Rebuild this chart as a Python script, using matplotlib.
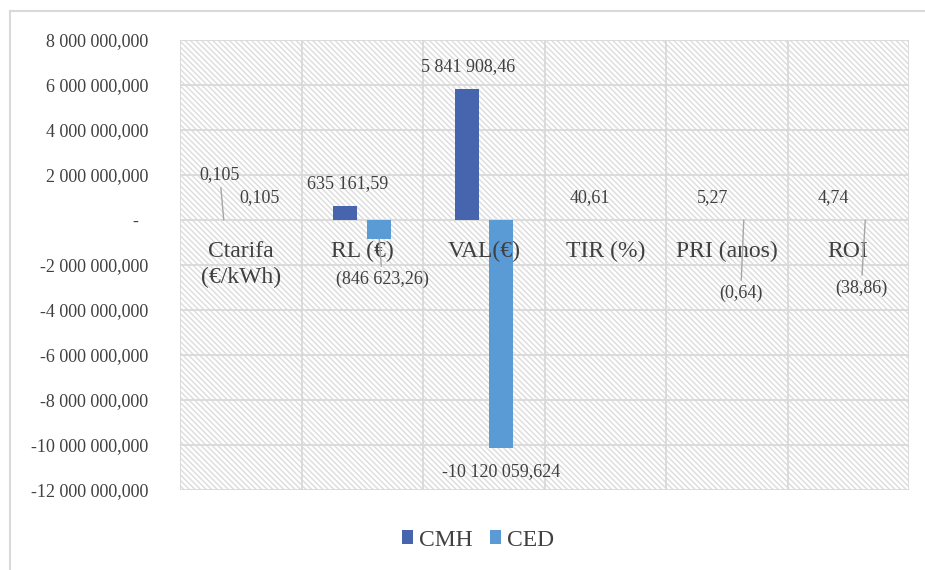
import numpy as np
import matplotlib
matplotlib.use("Agg")
import matplotlib.pyplot as plt
from matplotlib.patches import Rectangle, Patch
from matplotlib.lines import Line2D

categories = ["Ctarifa\n(€/kWh)", "RL (€)", "VAL(€)", "TIR (%)", "PRI (anos)", "ROI"]
cmh = [0.105, 635161.59, 5841908.46, 40.61, 5.27, 4.74]
ced = [0.105, -846623.26, -10120059.624, np.nan, -0.64, -38.86]
# decimals shown on each data label
cmh_dec = [3, 2, 2, 2, 2, 2]
ced_dec = [3, 2, 3, 2, 2, 2]
ced_paren = [True, True, False, True, True, True]
yticks = [-12e6, -10e6, -8e6, -6e6, -4e6, -2e6, 0, 2e6, 4e6, 6e6, 8e6]

# label offsets from the bar end, in pixels
cmh_off = [(-4, 45), (2, 22), (1, 22), (2, 22), (3, 22), (2, 22)]
ced_off = [(2, 22), (3, -40), (0, -24), (0, 0), (-3, -73), (-4, -68)]

TXT = "#404040"
GRID = "#d9d9d9"
C_CMH = "#4764ae"
C_CED = "#5b9bd5"
FONT = "Liberation Serif"

plt.rcParams["font.family"] = [FONT, "DejaVu Serif"]
plt.rcParams["hatch.color"] = "#dcdcdc"
plt.rcParams["hatch.linewidth"] = 1.0


def fmt(v, nd, paren=True):
    s = f"{abs(v):,.{nd}f}".replace(",", " ").replace(".", ",")
    if v < 0:
        return f"({s})" if paren else "-" + s
    return s


fig = plt.figure(figsize=(9.25, 5.7), dpi=100)
# chart border (left and top edges visible)
fig.add_artist(Line2D([10 / 925, 10 / 925], [0, 559 / 570], color=GRID, lw=1.5))
fig.add_artist(Line2D([10 / 925, 1], [559 / 570, 559 / 570], color=GRID, lw=1.5))

ax = fig.add_axes([180 / 925, 80 / 570, 729 / 925, 450 / 570])
ax.set_xlim(-0.5, len(categories) - 0.5)
ax.set_ylim(-12e6, 8e6)

# hatched plot area
ax.add_patch(Rectangle((0, 0), 1, 1, transform=ax.transAxes, facecolor="none",
                       edgecolor="#dcdcdc", hatch="\\" * 6, lw=0, zorder=0))

for y in yticks:
    ax.axhline(y, color=GRID, lw=1.3, zorder=1)
for xb in np.arange(-0.5, len(categories), 1):
    ax.axvline(xb, color=GRID, lw=1.3, zorder=1)

x = np.arange(len(categories))
w = 0.2
off = 0.14
ax.bar(x - off, cmh, w, color=C_CMH, zorder=3)
ax.bar(x + off, ced, w, color=C_CED, zorder=3)

for spine in ax.spines.values():
    spine.set_visible(False)

ax.set_yticks(yticks)
ax.set_yticklabels(["-\u2002" if v == 0 else fmt(v, 3, False) for v in yticks],
                   fontsize=13, color=TXT)
ax.tick_params(axis="y", length=0, pad=23)
ax.set_xticks([])

# category names sit just below the zero line
for i, name in enumerate(categories):
    ax.annotate(name, (i, 0), xytext=(0, -21), textcoords="offset pixels",
                ha="center", va="top", fontsize=17, color=TXT, linespacing=1.3,
                zorder=4)


def label(xv, v, text, dxy):
    dist = np.hypot(*dxy)
    arrow = dict(arrowstyle="-", color="#a6a6a6", lw=1.0, shrinkA=1, shrinkB=0) if dist > 35 else None
    ax.annotate(text, (xv, v), xytext=dxy, textcoords="offset pixels",
                ha="center", va="center", fontsize=13, color=TXT,
                arrowprops=arrow, zorder=6)


for i in range(len(categories)):
    if not np.isnan(cmh[i]):
        label(x[i] - off, cmh[i], fmt(cmh[i], cmh_dec[i]), cmh_off[i])
    if not np.isnan(ced[i]):
        label(x[i] + off, ced[i], fmt(ced[i], ced_dec[i], ced_paren[i]), ced_off[i])

handles = [Patch(facecolor=C_CMH, label="CMH"), Patch(facecolor=C_CED, label="CED")]
leg = fig.legend(handles=handles, loc="center", bbox_to_anchor=(478 / 925, 30 / 570), ncol=2,
                 frameon=False, fontsize=17, handlelength=0.5, handleheight=0.5,
                 handletextpad=0.25, columnspacing=0.7)
for t in leg.get_texts():
    t.set_color(TXT)

fig.savefig("out.png", dpi=100)
